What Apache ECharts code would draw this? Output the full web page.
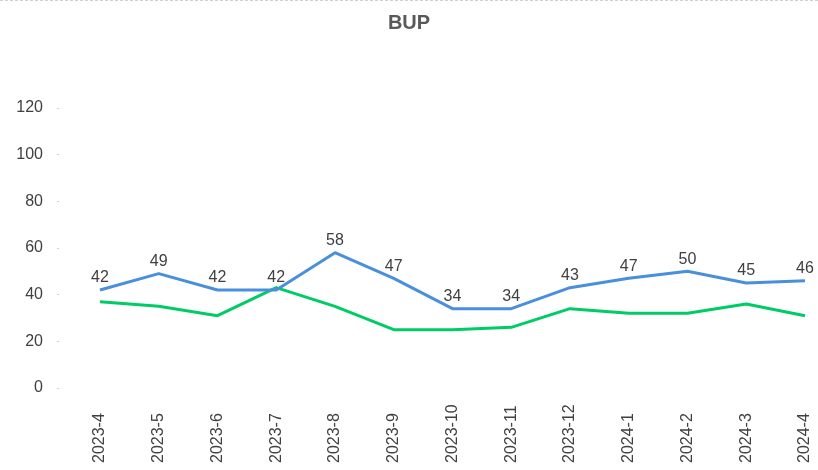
<!DOCTYPE html>
<html lang="en">

<head>
    <meta charset="UTF-8">
    <title>BUP</title>
    <script src="https://cdn.jsdelivr.net/npm/echarts@6/dist/echarts.min.js"></script>
    <style>
        body { margin: 0; background: #fff; }
        #main { width: 818px; height: 470px; border-top: 1px dashed #d0d0d0; box-sizing: border-box; }
    </style>
</head>

<body>
    <div id="main"></div>

    <script type="text/javascript">
        // 月份
        var months = ['2023-4', '2023-5', '2023-6', '2023-7', '2023-8', '2023-9', '2023-10',
            '2023-11', '2023-12', '2024-1', '2024-2', '2024-3', '2024-4'];
        // 蓝线（带标签）
        var blueValues = [42, 49, 42, 42, 58, 47, 34, 34, 43, 47, 50, 45, 46];
        // 绿线
        var greenValues = [37, 35, 31, 43, 35, 25, 25, 26, 34, 32, 32, 36, 31];

        var myChart = echarts.init(document.getElementById('main'));

        var option = {
            animation: false,
            title: {
                text: 'BUP',
                left: 'center',
                top: 7,
                textStyle: {
                    fontFamily: 'Liberation Sans',
                    fontSize: 20,
                    fontWeight: 'bold',
                    color: '#595959'
                }
            },
            grid: {
                left: 100,
                right: 13,
                top: 107,
                bottom: 82
            },
            xAxis: {
                type: 'category',
                boundaryGap: false,
                data: months,
                axisLine: { show: false },
                axisTick: { show: false },
                axisLabel: {
                    rotate: 90,
                    align: 'left',
                    margin: 75,
                    interval: 0,
                    fontFamily: 'Liberation Sans',
                    fontSize: 16,
                    color: '#404040'
                }
            },
            yAxis: {
                type: 'value',
                min: 0,
                max: 120,
                interval: 20,
                offset: 41,
                splitLine: { show: false },
                axisLine: { show: false },
                axisTick: {
                    show: true,
                    length: 2,
                    lineStyle: { color: '#d0d0d0' }
                },
                axisLabel: {
                    margin: 16,
                    fontFamily: 'Liberation Sans',
                    fontSize: 16,
                    color: '#404040'
                }
            },
            series: [{
                name: 'green',
                type: 'line',
                data: greenValues,
                showSymbol: false,
                lineStyle: { width: 3, color: '#00cc66' },
                itemStyle: { color: '#00cc66' }
            }, {
                name: 'blue',
                type: 'line',
                data: blueValues,
                symbol: 'circle',
                symbolSize: 0,
                lineStyle: { width: 3, color: '#4a8fdc' },
                itemStyle: { color: '#4a8fdc' },
                label: {
                    show: true,
                    position: 'top',
                    distance: 4,
                    fontFamily: 'Liberation Sans',
                    fontSize: 16,
                    color: '#404040'
                }
            }]
        };

        myChart.setOption(option);
    </script>
</body>

</html>
